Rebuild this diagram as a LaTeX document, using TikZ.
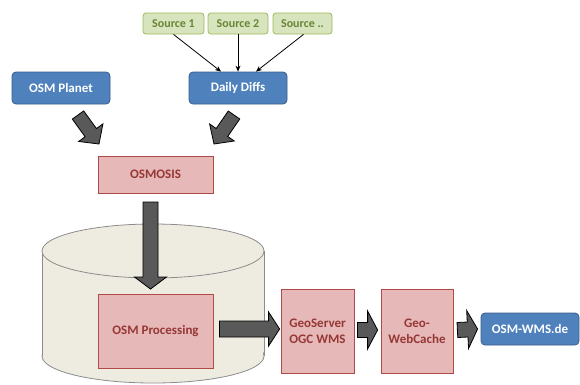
\documentclass[tikz,border=0pt]{standalone}
\usepackage{fontspec}
\setmainfont{Carlito}
\usetikzlibrary{calc,arrows.meta}
\definecolor{bluefill}{HTML}{4F81BD}
\definecolor{blueline}{HTML}{385D8A}
\definecolor{greenfill}{HTML}{D7E4BD}
\definecolor{greenline}{HTML}{9BBB59}
\definecolor{greentext}{HTML}{6A8535}
\definecolor{pinkfill}{HTML}{E6B9B8}
\definecolor{pinkline}{HTML}{B04A47}
\definecolor{pinktext}{HTML}{953735}
\definecolor{cylfill}{HTML}{EEECE1}
\definecolor{cylline}{HTML}{8C8C8C}
\definecolor{fatfill}{HTML}{595959}
\tikzset{
  bluebox/.style={draw=blueline, fill=bluefill, rounded corners=4pt, line width=0.8pt,
    text=white, font=\fontsize{13}{15}\selectfont\bfseries, minimum width=98pt, minimum height=32pt, inner sep=0pt},
  greenbox/.style={draw=greenline, fill=greenfill, rounded corners=3pt, line width=0.8pt,
    text=greentext, font=\fontsize{12}{14}\selectfont\bfseries, minimum height=21pt, inner sep=0pt},
  pinkbox/.style={draw=pinkline, fill=pinkfill, line width=0.8pt, text=pinktext,
    font=\fontsize{13}{16}\selectfont\bfseries, align=center, inner sep=0pt},
  fatarrowstyle/.style={draw=black, fill=fatfill, line width=0.8pt, line join=miter},
  thinarrow/.style={-{Stealth[length=6pt,width=5pt]}, line width=0.8pt, black}
}
\newcommand\fatarrow[5]{%
  \coordinate (fahead) at ($(#2)!#5!(#1)$);
  \draw[fatarrowstyle] ($(#1)!#3!90:(#2)$) -- ($(fahead)!#3!90:(#2)$) -- ($(fahead)!#4!90:(#2)$)
    -- (#2) -- ($(fahead)!#4!-90:(#2)$) -- ($(fahead)!#3!-90:(#2)$) -- ($(#1)!#3!-90:(#2)$) -- cycle;
}
\begin{document}
\begin{tikzpicture}[x=1pt,y=-1pt]
\useasboundingbox (0,0) rectangle (580,384);
% cylinder
\fill[cylfill] (42,251) rectangle (264,356);
\fill[cylfill] (153,356) ellipse[x radius=111, y radius=27];
\draw[cylline, line width=0.8pt] (153,356) ellipse[x radius=111, y radius=27];
\fill[cylfill] (43,251) rectangle (263,356);
\draw[cylline, line width=0.8pt] (42,251) -- (42,356);
\draw[cylline, line width=0.8pt] (264,251) -- (264,356);
\filldraw[cylline, fill=cylfill, line width=0.8pt] (153,251) ellipse[x radius=111, y radius=27];

\node[greenbox, minimum width=61pt] (s1) at (173.5,23.5) {Source 1};
\node[greenbox, minimum width=60pt] (s2) at (238,23.5) {Source 2};
\node[greenbox, minimum width=59pt] (s3) at (302.5,23.5) {Source ..};
\node[bluebox] (dd) at (238,88) {Daily Diffs};
\node[bluebox] (pl) at (61,88) {OSM Planet};
\node[pinkbox, minimum width=115pt, minimum height=37pt] (os) at (155.5,174.5) {OSMOSIS};
\node[pinkbox, minimum width=115pt, minimum height=74pt] (pr) at (155.5,331) {OSM Processing};
\node[pinkbox, minimum width=73pt, minimum height=84pt] (gs) at (317.5,331) {GeoServer\\OGC WMS};
\node[pinkbox, minimum width=72pt, minimum height=84pt] (wc) at (417,331) {Geo-\\WebCache};
\node[bluebox] (wms) at (530,329) {OSM-WMS.de};

\draw[thinarrow] ([xshift=0pt]s1.south) -- ([xshift=-17pt]dd.north);
\draw[thinarrow] (s2.south) -- (dd.north);
\draw[thinarrow] ([xshift=1pt]s3.south) -- ([xshift=18pt]dd.north);

\coordinate (a1s) at (78,115); \coordinate (a1e) at (99,144);
\coordinate (a2s) at (234,115); \coordinate (a2e) at (214,144);
\coordinate (a3s) at (150.5,202); \coordinate (a3e) at (150.5,289);
\fatarrow{a1s}{a1e}{7pt}{15pt}{14pt}
\fatarrow{a2s}{a2e}{7pt}{15pt}{14pt}
\fatarrow{a3s}{a3e}{7.5pt}{16pt}{12pt}
\fatarrow{$(pr.east)+(6,-2)$}{$(gs.west)+(-1,-2)$}{8pt}{17pt}{11pt}
\fatarrow{$(gs.east)+(3,-1)$}{$(wc.west)+(-3,-1)$}{7.5pt}{19pt}{10pt}
\fatarrow{$(wc.east)+(4,-1)$}{$(wms.west)+(-3,0)$}{7.5pt}{19pt}{10pt}
\end{tikzpicture}
\end{document}
